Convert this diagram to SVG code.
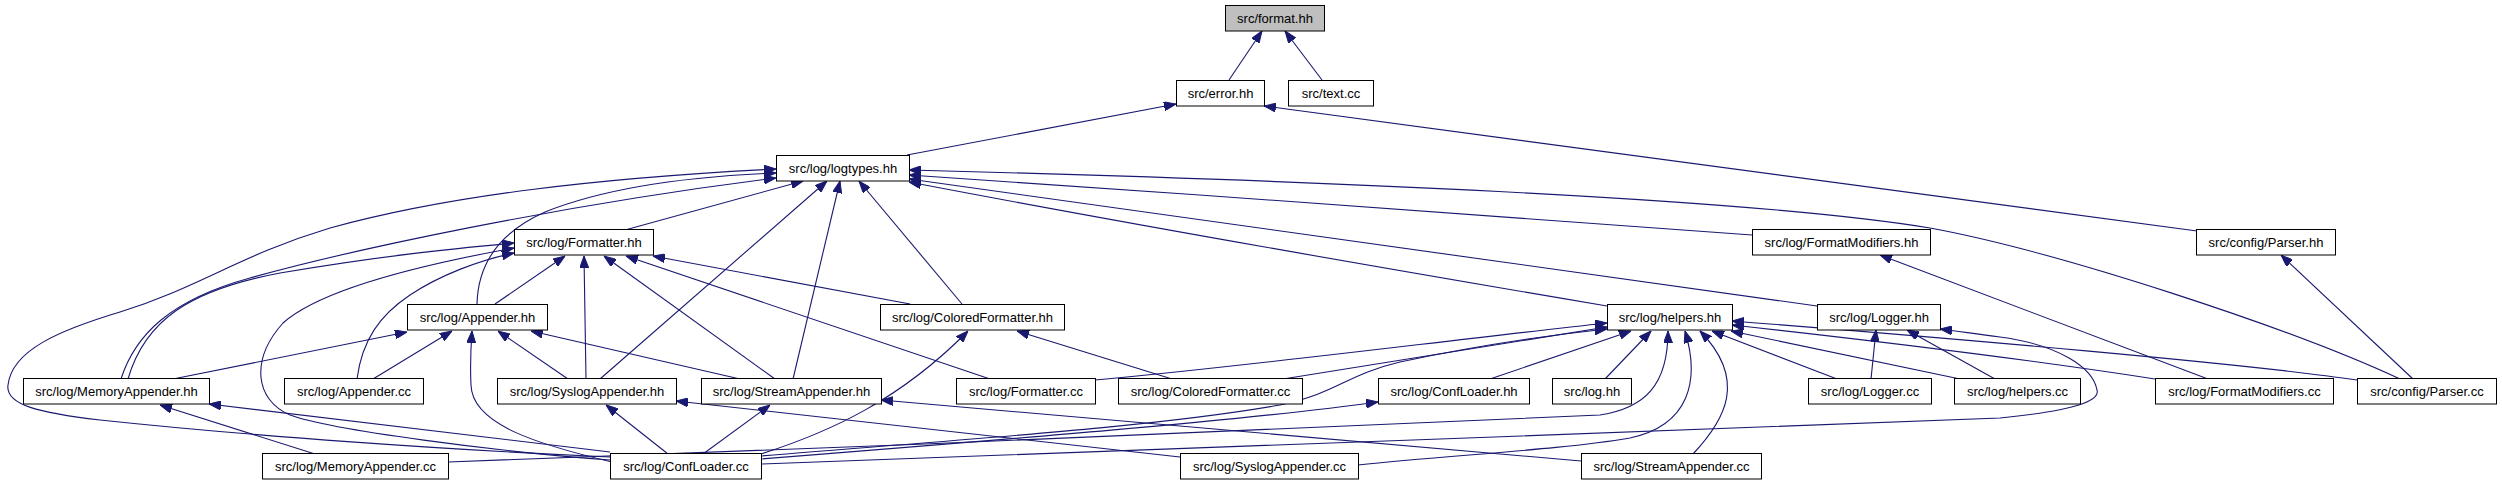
<svg xmlns="http://www.w3.org/2000/svg" width="2502" height="485" viewBox="0 0 2502 485">
<style>
.n rect{fill:#fff;stroke:#000;stroke-width:1}
.n text{font-family:"Liberation Sans",Arial,Helvetica,sans-serif;font-size:13px;text-anchor:middle;fill:#000}
#edges path{fill:none;stroke:#191970;stroke-width:1.1;marker-end:url(#a)}
</style>
<defs>
<marker id="a" viewBox="0 0 12 9" refX="12" refY="4.5" markerWidth="12" markerHeight="9" orient="auto" markerUnits="userSpaceOnUse">
<path d="M0,0 L12,4.5 L0,9 z" fill="#191970" stroke="#191970" stroke-width="1"/>
</marker>
</defs>
<rect width="2502" height="485" fill="#fff"/>
<g id="edges">
<path d="M1229,80 L1262,31"/>
<path d="M1322,80 L1285,31"/>
<path d="M907,155 L1176,104"/>
<path d="M2197,231 L1264,106"/>
<path d="M625,230 L803,181"/>
<path d="M600,379 L827,181"/>
<path d="M793,379 L840,181"/>
<path d="M962,304 L859,181"/>
<path d="M2400,379 C2290,328 2060,252 1930,228 C1750,198 1300,180 909,170"/>
<path d="M1752,235 C1600,222 1200,195 909,175"/>
<path d="M1817,306 L909,179"/>
<path d="M1607,306 C1400,271 1150,228 909,182"/>
<path d="M477,304 C478,262 500,232 545,212 C610,186 700,176 776,173"/>
<path d="M121,379 C135,335 170,300 250,278 C350,250 560,205 776,178"/>
<path d="M610,457 C450,450 250,436 100,420 C40,413 5,405 8,385 C12,350 60,330 120,312 C200,287 240,255 330,228 C450,195 600,178 776,169"/>
<path d="M128,379 C145,320 190,290 280,273 C380,256 450,249 514,243"/>
<path d="M357,379 C362,340 380,315 410,295 C440,275 480,260 514,253"/>
<path d="M610,460 C500,452 330,430 290,415 C255,400 250,360 283,323 C320,290 420,265 514,248"/>
<path d="M173,379 L407,332"/>
<path d="M373,379 L452,331"/>
<path d="M495,304 L565,256"/>
<path d="M586,379 L584,256"/>
<path d="M775,379 L604,256"/>
<path d="M910,304 L653,256"/>
<path d="M990,379 L626,256"/>
<path d="M612,462 C540,445 472,425 471,385 C470,365 471,345 472,331"/>
<path d="M568,379 L498,331"/>
<path d="M740,379 L531,331"/>
<path d="M668,454 L606,405"/>
<path d="M703,454 L770,405"/>
<path d="M610,452 L209,404"/>
<path d="M315,454 L160,405"/>
<path d="M761,454 C830,432 900,400 968,331"/>
<path d="M1172,379 L1017,331"/>
<path d="M1581,461 L881,400"/>
<path d="M1180,457 L676,401"/>
<path d="M1490,379 L1631,331"/>
<path d="M1605,379 L1651,331"/>
<path d="M1837,379 L1712,331"/>
<path d="M1960,379 L1731,331"/>
<path d="M2155,379 C2000,355 1850,338 1732,325"/>
<path d="M2357,380 C2250,364 1950,338 1732,321"/>
<path d="M761,464 C1000,452 1600,435 2000,418 C2080,410 2100,400 2097,390 C2093,368 2060,345 2000,337 C1975,334 1958,331 1940,329"/>
<path d="M1871,379 L1876,330"/>
<path d="M1995,379 L1907,330"/>
<path d="M2208,379 L1880,255"/>
<path d="M2413,379 L2281,255"/>
<path d="M1095,380 C1250,366 1450,340 1607,323"/>
<path d="M1283,379 L1607,327"/>
<path d="M761,456 C950,440 1150,428 1280,405 C1340,392 1345,375 1400,362 C1480,345 1550,335 1607,329"/>
<path d="M761,459 C1000,440 1250,420 1378,402"/>
<path d="M448,462 C800,450 1400,425 1600,415 C1645,408 1668,385 1668,331"/>
<path d="M1358,465 C1450,455 1560,450 1630,438 C1690,425 1700,380 1685,331"/>
<path d="M1693,454 C1725,420 1748,380 1700,331"/>
</g>
<g id="n_format_hh" class="n"><rect x="1225.5" y="5.5" width="99" height="25.5" style="fill:#bfbfbf"/><text x="1275" y="22.5">src/format.hh</text></g>
<g id="n_error_hh" class="n"><rect x="1176.5" y="80.5" width="88" height="25.5"/><text x="1220.5" y="97.5">src/error.hh</text></g>
<g id="n_text_cc" class="n"><rect x="1288.5" y="80.5" width="85" height="25.5"/><text x="1331" y="97.5">src/text.cc</text></g>
<g id="n_logtypes_hh" class="n"><rect x="776.5" y="155.5" width="133" height="25.5"/><text x="843" y="172.5">src/log/logtypes.hh</text></g>
<g id="n_Formatter_hh" class="n"><rect x="514.5" y="229.5" width="139" height="25.5"/><text x="584" y="246.5">src/log/Formatter.hh</text></g>
<g id="n_FormatModifiers_hh" class="n"><rect x="1752.5" y="229.5" width="178" height="25.5"/><text x="1841.5" y="246.5">src/log/FormatModifiers.hh</text></g>
<g id="n_Parser_hh" class="n"><rect x="2196.5" y="229.5" width="139" height="25.5"/><text x="2266" y="246.5">src/config/Parser.hh</text></g>
<g id="n_Appender_hh" class="n"><rect x="407.5" y="304.5" width="140" height="25.5"/><text x="477.5" y="321.5">src/log/Appender.hh</text></g>
<g id="n_ColoredFormatter_hh" class="n"><rect x="880.5" y="304.5" width="184" height="25.5"/><text x="972.5" y="321.5">src/log/ColoredFormatter.hh</text></g>
<g id="n_helpers_hh" class="n"><rect x="1607.5" y="304.5" width="125" height="25.5"/><text x="1670" y="321.5">src/log/helpers.hh</text></g>
<g id="n_Logger_hh" class="n"><rect x="1817.5" y="304.5" width="123" height="25.5"/><text x="1879" y="321.5">src/log/Logger.hh</text></g>
<g id="n_MemoryAppender_hh" class="n"><rect x="23.5" y="378.5" width="186" height="25.5"/><text x="116.5" y="395.5">src/log/MemoryAppender.hh</text></g>
<g id="n_Appender_cc" class="n"><rect x="284.5" y="378.5" width="139" height="25.5"/><text x="354" y="395.5">src/log/Appender.cc</text></g>
<g id="n_SyslogAppender_hh" class="n"><rect x="497.5" y="378.5" width="179" height="25.5"/><text x="587" y="395.5">src/log/SyslogAppender.hh</text></g>
<g id="n_StreamAppender_hh" class="n"><rect x="701.5" y="378.5" width="180" height="25.5"/><text x="791.5" y="395.5">src/log/StreamAppender.hh</text></g>
<g id="n_Formatter_cc" class="n"><rect x="956.5" y="378.5" width="139" height="25.5"/><text x="1026" y="395.5">src/log/Formatter.cc</text></g>
<g id="n_ColoredFormatter_cc" class="n"><rect x="1118.5" y="378.5" width="184" height="25.5"/><text x="1210.5" y="395.5">src/log/ColoredFormatter.cc</text></g>
<g id="n_ConfLoader_hh" class="n"><rect x="1378.5" y="378.5" width="151" height="25.5"/><text x="1454" y="395.5">src/log/ConfLoader.hh</text></g>
<g id="n_log_hh" class="n"><rect x="1552.5" y="378.5" width="79" height="25.5"/><text x="1592" y="395.5">src/log.hh</text></g>
<g id="n_Logger_cc" class="n"><rect x="1808.5" y="378.5" width="123" height="25.5"/><text x="1870" y="395.5">src/log/Logger.cc</text></g>
<g id="n_helpers_cc" class="n"><rect x="1954.5" y="378.5" width="126" height="25.5"/><text x="2017.5" y="395.5">src/log/helpers.cc</text></g>
<g id="n_FormatModifiers_cc" class="n"><rect x="2155.5" y="378.5" width="178" height="25.5"/><text x="2244.5" y="395.5">src/log/FormatModifiers.cc</text></g>
<g id="n_Parser_cc" class="n"><rect x="2357.5" y="378.5" width="139" height="25.5"/><text x="2427" y="395.5">src/config/Parser.cc</text></g>
<g id="n_MemoryAppender_cc" class="n"><rect x="262.5" y="453.5" width="186" height="25.5"/><text x="355.5" y="470.5">src/log/MemoryAppender.cc</text></g>
<g id="n_ConfLoader_cc" class="n"><rect x="610.5" y="453.5" width="151" height="25.5"/><text x="686" y="470.5">src/log/ConfLoader.cc</text></g>
<g id="n_SyslogAppender_cc" class="n"><rect x="1180.5" y="453.5" width="178" height="25.5"/><text x="1269.5" y="470.5">src/log/SyslogAppender.cc</text></g>
<g id="n_StreamAppender_cc" class="n"><rect x="1581.5" y="453.5" width="180" height="25.5"/><text x="1671.5" y="470.5">src/log/StreamAppender.cc</text></g>
</svg>
